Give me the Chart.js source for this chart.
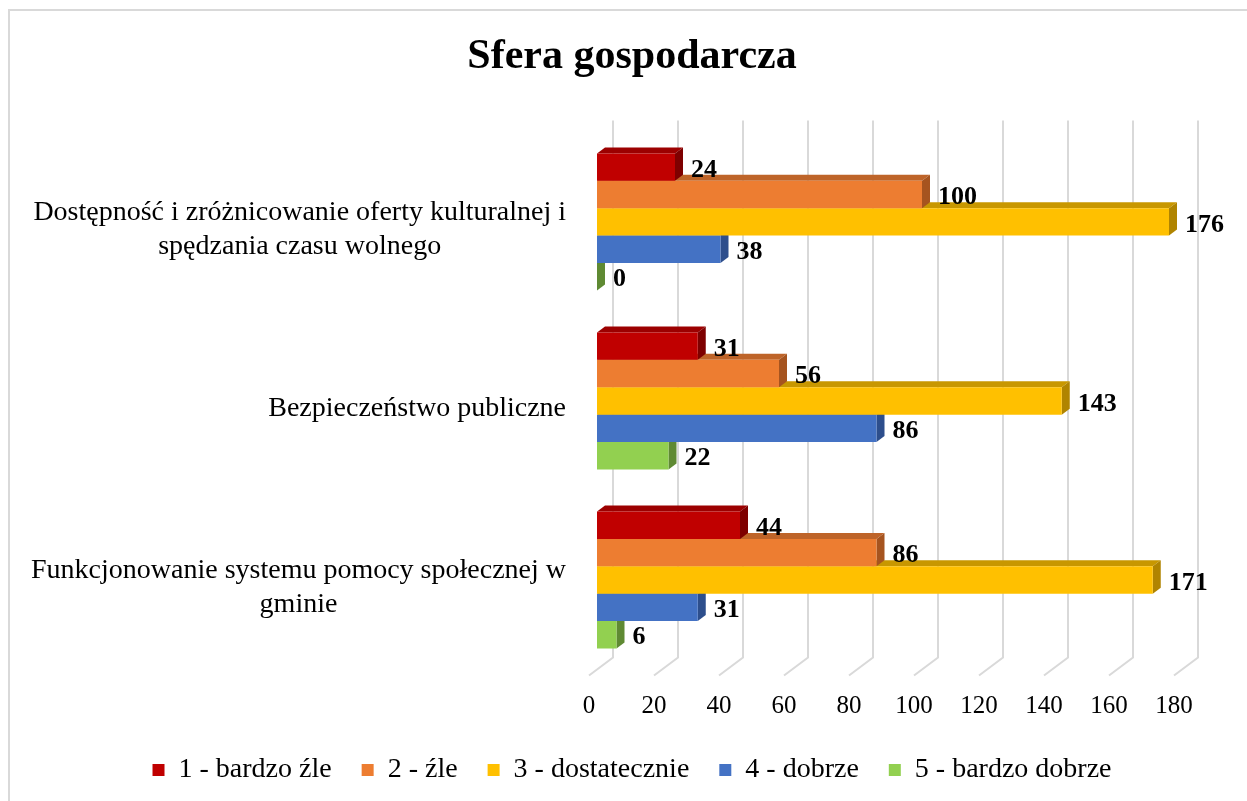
<!DOCTYPE html>
<html lang="pl">
<head>
<meta charset="UTF-8">
<title>Sfera gospodarcza</title>
<style>
    html, body {
        margin: 0;
        padding: 0;
        background: #fff;
        overflow: hidden;
    }
    .frame {
        position: absolute;
        left: 8px;
        top: 9px;
        width: 1300px;
        height: 900px;
        border: 2px solid #d9d9d9;
    }
    .chart-box {
        position: absolute;
        left: 0;
        top: 0;
        width: 1247px;
        height: 801px;
    }
</style>
</head>
<body>
<div class="frame"></div>
<div class="chart-box"><canvas id="chart"></canvas></div>

<script src="https://cdn.jsdelivr.net/npm/chart.js"></script>
<script>
// data
const categories = [
    ['Dostępność i zróżnicowanie oferty kulturalnej i', 'spędzania czasu wolnego'],
    ['Bezpieczeństwo publiczne'],
    ['Funkcjonowanie systemu pomocy społecznej w', 'gminie']
];
const seriesNames = ['1 - bardzo źle', '2 - źle', '3 - dostatecznie', '4 - dobrze', '5 - bardzo dobrze'];
const bardzoZle = [24, 31, 44];
const zle = [100, 56, 86];
const dostatecznie = [176, 143, 171];
const dobrze = [38, 86, 31];
const bardzoDobrze = [0, 22, 6];
const axisMin = 0;
const axisMax = 180;
const axisStep = 20;

// colours: front face, top face, side face
const frontColors = ['#C00000', '#ED7D31', '#FFC000', '#4472C4', '#92D050'];
const topColors = ['#9C0000', '#BE6429', '#C89700', '#365CA0', '#73A63E'];
const sideColors = ['#7E0000', '#A6541F', '#B08400', '#2D4E8C', '#5F8A33'];

const FONT = '"Liberation Serif", "Times New Roman", serif';
const DX = 8, DY = 6;            // bar depth
const WALL_DX = 16, WALL_DY = 12; // back wall offset
const FLOOR_DX = 8, FLOOR_DY = 6; // floor front edge offset

Chart.defaults.font.family = FONT;
Chart.defaults.color = '#000';

const bar3d = {
    id: 'bar3d',
    beforeDatasetsDraw(chart) {
        const { ctx, chartArea, scales: { x } } = chart;
        ctx.save();

        // grid lines: back wall + floor
        ctx.strokeStyle = '#d9d9d9';
        ctx.lineWidth = 2;
        x.ticks.forEach(t => {
            const px = x.getPixelForValue(t.value);
            ctx.beginPath();
            ctx.moveTo(px + WALL_DX, chartArea.top - WALL_DY);
            ctx.lineTo(px + WALL_DX, chartArea.bottom - WALL_DY);
            ctx.lineTo(px - FLOOR_DX, chartArea.bottom + FLOOR_DY);
            ctx.stroke();
        });

        // top and side faces, lowest series first so upper bars cover them
        for (let d = chart.data.datasets.length - 1; d >= 0; d--) {
            chart.getDatasetMeta(d).data.forEach(bar => {
                const { x: xe, y, base, height } = bar.getProps(['x', 'y', 'base', 'height'], true);
                const top = y - height / 2;
                const bottom = y + height / 2;

                ctx.fillStyle = topColors[d];
                ctx.beginPath();
                ctx.moveTo(base, top);
                ctx.lineTo(base + DX, top - DY);
                ctx.lineTo(xe + DX, top - DY);
                ctx.lineTo(xe, top);
                ctx.closePath();
                ctx.fill();

                ctx.fillStyle = sideColors[d];
                ctx.beginPath();
                ctx.moveTo(xe, top);
                ctx.lineTo(xe + DX, top - DY);
                ctx.lineTo(xe + DX, bottom - DY);
                ctx.lineTo(xe, bottom);
                ctx.closePath();
                ctx.fill();
            });
        }
        ctx.restore();
    },
    afterDatasetsDraw(chart) {
        const { ctx, chartArea, scales: { x, y } } = chart;
        ctx.save();
        ctx.fillStyle = '#000';
        ctx.textBaseline = 'middle';

        // value labels
        ctx.font = 'bold 26px ' + FONT;
        ctx.textAlign = 'left';
        chart.data.datasets.forEach((ds, d) => {
            chart.getDatasetMeta(d).data.forEach((bar, i) => {
                ctx.fillText(ds.data[i], bar.x + 16, bar.y + 3);
            });
        });

        // x tick labels along the floor edge
        ctx.font = '25px ' + FONT;
        ctx.textAlign = 'center';
        x.ticks.forEach(t => {
            ctx.fillText(t.label, x.getPixelForValue(t.value) - FLOOR_DX, chartArea.bottom + 37);
        });

        // category labels: each block centred, right edge next to the axis
        ctx.font = '28px ' + FONT;
        categories.forEach((lines, i) => {
            const yc = y.getPixelForValue(i) + 8;
            const w = Math.max(...lines.map(l => ctx.measureText(l).width));
            const cx = chartArea.left - 31 - w / 2;
            lines.forEach((l, k) => {
                ctx.fillText(l, cx, yc + (k - (lines.length - 1) / 2) * 34);
            });
        });
        ctx.restore();
    }
};

const seriesData = [bardzoZle, zle, dostatecznie, dobrze, bardzoDobrze];

new Chart(document.getElementById('chart'), {
    type: 'bar',
    data: {
        labels: categories,
        datasets: seriesData.map((values, d) => ({
            label: seriesNames[d],
            data: values,
            backgroundColor: frontColors[d],
            borderWidth: 0,
            categoryPercentage: 0.765,
            barPercentage: 1
        }))
    },
    options: {
        indexAxis: 'y',
        responsive: true,
        maintainAspectRatio: false,
        animation: false,
        layout: {
            padding: { left: 82, right: 65, top: 0, bottom: 7 }
        },
        scales: {
            x: {
                min: axisMin,
                max: axisMax,
                grid: { display: false },
                border: { display: false },
                ticks: { display: false, stepSize: axisStep },
                afterFit(scale) { scale.height = 56.5; }
            },
            y: {
                grid: { display: false },
                border: { display: false },
                ticks: { display: false },
                afterFit(scale) { scale.width = 515; }
            }
        },
        plugins: {
            title: {
                display: true,
                text: 'Sfera gospodarcza',
                color: '#000',
                font: { family: FONT, size: 42, weight: 'bold' },
                padding: { top: 32, bottom: 50 }
            },
            legend: {
                position: 'bottom',
                labels: {
                    boxWidth: 12,
                    boxHeight: 12,
                    padding: 30,
                    color: '#000',
                    font: { family: FONT, size: 28 }
                }
            },
            tooltip: { enabled: false }
        }
    },
    plugins: [bar3d]
});
</script>
</body>
</html>
